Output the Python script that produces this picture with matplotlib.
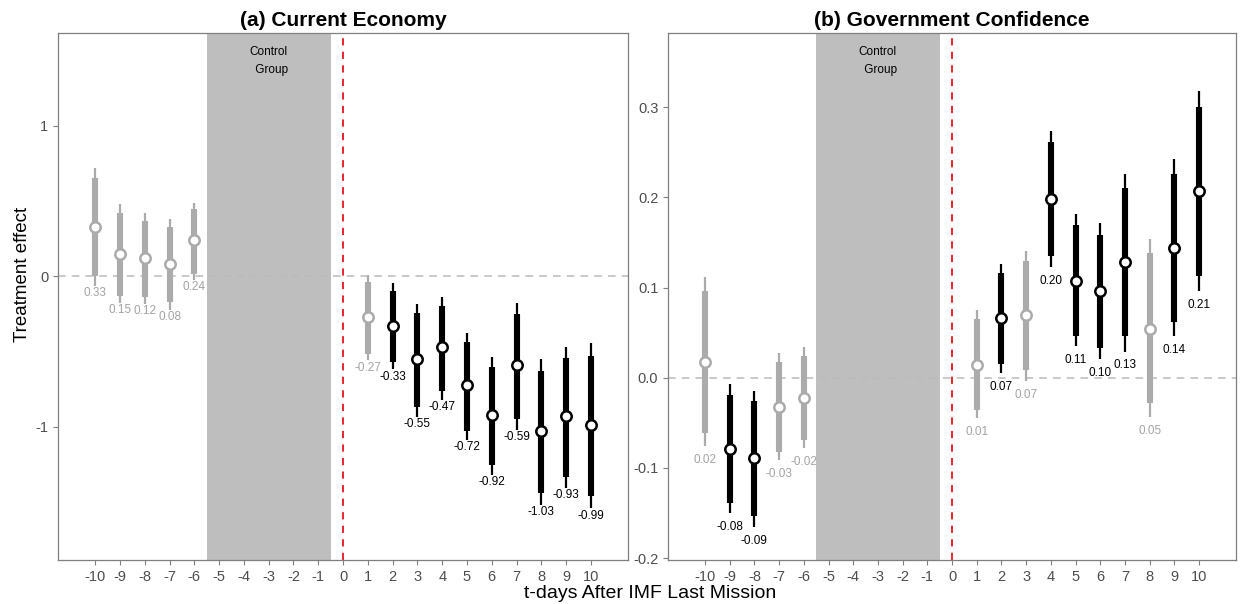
import numpy as np
import matplotlib
matplotlib.use("Agg")
import matplotlib.pyplot as plt

plt.rcParams['font.family'] = ['Liberation Sans', 'DejaVu Sans']

# days relative to the IMF mission
days = [-10, -9, -8, -7, -6, 1, 2, 3, 4, 5, 6, 7, 8, 9, 10]

# (a) current economy
est_a = [0.326, 0.148, 0.118, 0.078, 0.237, -0.272, -0.331, -0.553, -0.474,
         -0.724, -0.922, -0.594, -1.032, -0.933, -0.992]
lo90_a = [0.00, -0.13, -0.137, -0.17, 0.013, -0.518, -0.569, -0.873, -0.762,
          -1.028, -1.256, -0.95, -1.44, -1.333, -1.462]
hi90_a = [0.65, 0.42, 0.367, 0.323, 0.445, -0.038, -0.097, -0.248, -0.197,
          -0.436, -0.607, -0.252, -0.63, -0.547, -0.532]
lo95_a = [-0.066, -0.18, -0.186, -0.226, -0.027, -0.56, -0.62, -0.935, -0.824,
          -1.09, -1.32, -1.02, -1.52, -1.41, -1.544]
hi95_a = [0.716, 0.478, 0.417, 0.377, 0.487, 0.007, -0.049, -0.186, -0.137,
          -0.376, -0.54, -0.18, -0.553, -0.47, -0.443]

# (b) government confidence
est_b = [0.017, -0.079, -0.089, -0.032, -0.022, 0.014, 0.066, 0.069, 0.198,
         0.1075, 0.0957, 0.128, 0.054, 0.1438, 0.207]
lo90_b = [-0.061, -0.139, -0.153, -0.082, -0.069, -0.0355, 0.015, 0.0089, 0.135,
          0.0466, 0.0329, 0.046, -0.028, 0.0613, 0.113]
hi90_b = [0.096, -0.019, -0.026, 0.0174, 0.024, 0.065, 0.116, 0.129, 0.261,
          0.169, 0.1585, 0.21, 0.138, 0.226, 0.300]
lo95_b = [-0.076, -0.15, -0.165, -0.091, -0.078, -0.0447, 0.005, -0.004, 0.123,
          0.0347, 0.0207, 0.029, -0.0436, 0.0458, 0.0957]
hi95_b = [0.112, -0.007, -0.0144, 0.027, 0.034, 0.075, 0.126, 0.14, 0.273,
          0.181, 0.171, 0.226, 0.154, 0.242, 0.318]

titles = ["(a) Current Economy", "(b) Government Confidence"]
xticks = list(range(-10, 11))

GREY = '#ABABAB'
GREY_TXT = '#A3A3A3'
FRAME = '#7F7F7F'

fig = plt.figure(figsize=(12.43, 6.04), dpi=100)
ax1 = fig.add_axes([0.0467, 0.0728, 0.4586, 0.8725])
ax2 = fig.add_axes([0.5374, 0.0728, 0.4570, 0.8725])


def panel(ax, est, lo90, hi90, lo95, hi95, title, ylim, yticks, ylabels, text_y, lab_off):
    ax.axvspan(-5.5, -0.5, color='#BEBEBE', lw=0, zorder=0)
    ax.axhline(0, color='#BBBBBB', ls=(0, (5, 4)), lw=1.1, zorder=1)
    ax.axvline(0, color='#E8141A', ls=(0, (4, 3.5)), lw=1.3, zorder=1)
    ax.text(-3, text_y, "Control\n Group", ha='center', va='center',
            multialignment='right', fontsize=8.5, linespacing=1.6)
    for i, d in enumerate(days):
        sig = lo95[i] > 0 or hi95[i] < 0
        c = 'black' if sig else GREY
        tc = 'black' if sig else GREY_TXT
        ax.plot([d, d], [lo95[i], hi95[i]], color=c, lw=1.6, solid_capstyle='butt', zorder=2)
        ax.plot([d, d], [lo90[i], hi90[i]], color=c, lw=4.4, solid_capstyle='butt', zorder=3)
        ax.plot(d, est[i], 'o', ms=7.5, mfc='white', mec=c, mew=1.8, zorder=4)
        ax.annotate("%.2f" % est[i], (d, lo95[i]), xytext=(0, -lab_off),
                    textcoords='offset points', ha='center', va='center',
                    fontsize=8.5, color=tc)
    ax.set_xlim(-11.5, 11.5)
    ax.set_ylim(*ylim)
    ax.set_xticks(xticks)
    ax.set_xticklabels([str(t) for t in xticks])
    ax.set_yticks(yticks)
    ax.set_yticklabels(ylabels)
    ax.tick_params(colors=FRAME, labelcolor='#4D4D4D', labelsize=10.5, length=3.5, width=0.8)
    for s in ax.spines.values():
        s.set_color(FRAME)
        s.set_linewidth(0.9)
    ax.set_title(title, fontsize=15, fontweight='bold', pad=5)


panel(ax1, est_a, lo90_a, hi90_a, lo95_a, hi95_a, titles[0], (-1.887, 1.615),
      [-1, 0, 1], ['-1', '0', '1'], 1.43, 5.2)
panel(ax2, est_b, lo90_b, hi90_b, lo95_b, hi95_b, titles[1], (-0.202, 0.382),
      [-0.2, -0.1, 0.0, 0.1, 0.2, 0.3], ['-0.2', '-0.1', '0.0', '0.1', '0.2', '0.3'],
      0.351, 10)

fig.text(0.523, 0.018, "t-days After IMF Last Mission", ha='center', va='center', fontsize=14)
fig.text(0.018, 0.545, "Treatment effect", ha='center', va='center', rotation=90, fontsize=13.5)

fig.savefig("out.png", dpi=100)
